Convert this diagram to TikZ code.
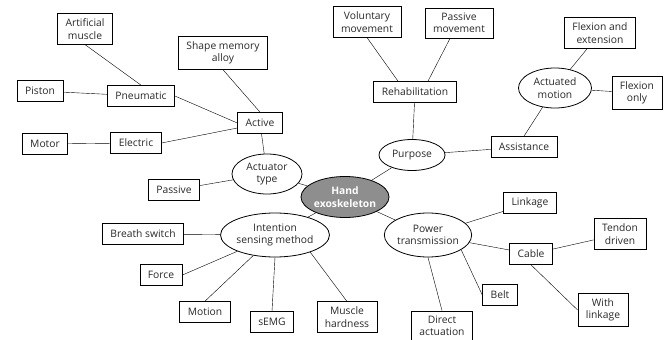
\documentclass[tikz,border=0pt]{standalone}
\usepackage{fontspec}
\setmainfont{Open Sans}
\usepackage{tikz}
\usetikzlibrary{shapes,arrows.meta,positioning}
\definecolor{rootgray}{RGB}{142,142,142}
\definecolor{ink}{RGB}{40,40,40}
\tikzset{
    auto, line width=1.1pt,
    state/.style ={ellipse, draw, line width=0.8pt, inner sep=0pt, align=center, text=ink},
    box/.style = {rectangle, draw, line width=0.7pt, align=center, inner xsep=8pt, inner ysep=5pt, minimum height=21pt, text=ink},
    root/.style = {ellipse, draw, line width=0.8pt, fill=rootgray, text=white, font=\bfseries, inner sep=0pt, align=center}
}
\begin{document}
\fontsize{10.3}{12.5}\selectfont
\begin{tikzpicture}[x=1pt, y=-1pt]
        \useasboundingbox (0,0) rectangle (665,340);
        \node[root, minimum width=72pt, minimum height=41pt] (hand) at (345,197) {Hand\\exoskeleton};

        % actuator type
        \node[state, minimum width=70pt, minimum height=40pt] (act) at (267,174) {Actuator\\type};
        \node[box] (active) at (260,123) {Active};
        \node[box] (pneu) at (141,96) {Pneumatic};
        \node[box] (elec) at (136,143) {Electric};
        \node[box] (muscle) at (85,29) {Artificial\\muscle};
        \node[box] (piston) at (40,91) {Piston};
        \node[box] (motor) at (45,144) {Motor};
        \node[box] (sma) at (223,53) {Shape memory\\alloy};
        \node[box] (passive) at (174,190) {Passive};

        % purpose
        \node[state, minimum width=66pt, minimum height=31pt] (purp) at (412,155) {Purpose};
        \node[box] (rehab) at (415,92) {Rehabilitation};
        \node[box] (volmov) at (367,22) {Voluntary\\movement};
        \node[box] (pasmov) at (459,23) {Passive\\movement};
        \node[box] (assist) at (524,147) {Assistance};
        \node[state, minimum width=73pt, minimum height=40pt] (actmot) at (555,88) {Actuated\\motion};
        \node[box] (flexext) at (600,33) {Flexion and\\extension};
        \node[box] (flexonly) at (637,93) {Flexion\\only};

        % power transmission
        \node[state, minimum width=77pt, minimum height=44pt] (power) at (428,235) {Power\\transmission};
        \node[box] (linkage) at (530,203) {Linkage};
        \node[box] (cable) at (531,254) {Cable};
        \node[box] (tendon) at (620,234) {Tendon\\driven};
        \node[box] (withlink) at (603,310) {With\\linkage};
        \node[box] (belt) at (500,295) {Belt};
        \node[box] (direct) at (442,326) {Direct\\actuation};

        % intention sensing
        \node[state, minimum width=96pt, minimum height=44pt] (intent) at (275,235) {Intention\\sensing method};
        \node[box] (breath) at (143,234) {Breath switch};
        \node[box] (force) at (161,275) {Force};
        \node[box] (motion) at (205,312) {Motion};
        \node[box] (semg) at (272,322) {sEMG};
        \node[box] (hard) at (347,317) {Muscle\\hardness};

        \path (hand) edge (act);
        \path (act) edge (active);
        \path (act) edge (passive);
        \path (pneu.east) edge (active.west);
        \path (elec.east) edge ([yshift=-5pt]active.west);
        \path (sma.south) edge (active.north);
        \path (muscle.south) edge (pneu.north);
        \path (piston) edge (pneu);
        \path (motor) edge (elec);

        \path (hand) edge (purp);
        \path (purp) edge (rehab);
        \path (purp) edge (assist);
        \path (volmov.south) edge ([xshift=-17pt]rehab.north);
        \path ([xshift=-9pt]pasmov.south) edge ([xshift=13pt]rehab.north);
        \path (assist.north) edge (actmot);
        \path (actmot) edge (flexext);
        \path (actmot) edge (flexonly);

        \path (hand) edge (power);
        \path (power) edge (linkage);
        \path (power) edge (cable);
        \path (cable) edge (tendon);
        \path (cable.south) edge (withlink.west);
        \path (power.-24) edge (belt.west);
        \path (power.south) edge (direct.north);

        \path (hand) edge (intent);
        \path (intent) edge (breath);
        \path (force.east) edge (intent);
        \path (motion.north) edge (intent);
        \path (semg.north) edge (intent.south);
        \path (hard.north) edge (intent.-26);
\end{tikzpicture}
\end{document}
